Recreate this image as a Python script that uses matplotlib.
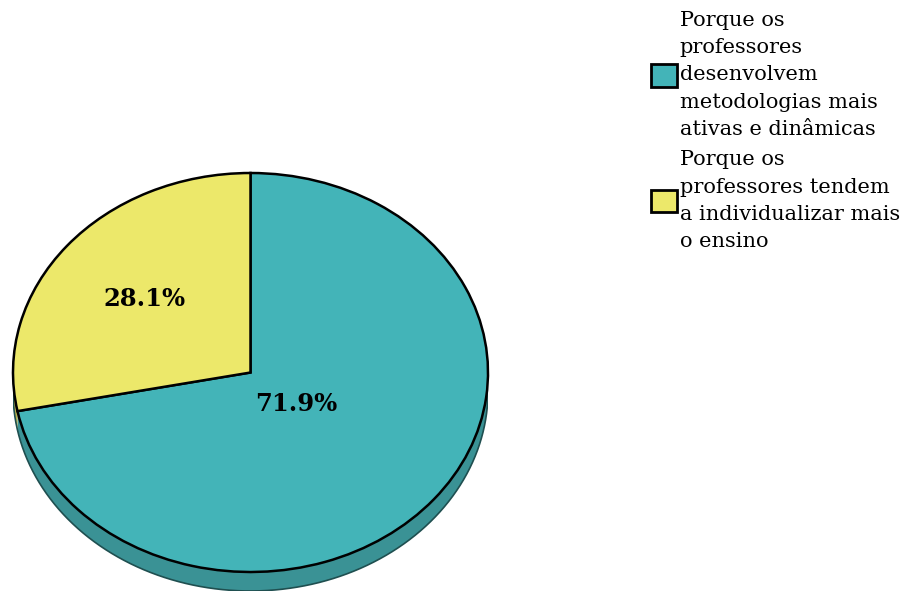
import numpy as np
import matplotlib.pyplot as plt
from matplotlib.patches import Polygon

# Dados do gráfico
categorias = ['Porque os\nprofessores\ndesenvolvem\nmetodologias mais\nativas e dinâmicas',
              'Porque os\nprofessores tendem\na individualizar mais\no ensino']
valores = [71.9, 28.1]
rotulos = ['71.9%', '28.1%']
cores = ['#43B4B8', '#ECE86A']
cores_lado = ['#3A9295', '#B8B24C']

plt.rcParams['font.family'] = ['DejaVu Serif']

fig = plt.figure(figsize=(9, 5.92), dpi=100)
# eixo que contém a elipse (topo 173 px, base da espessura 591 px)
ax = fig.add_axes([13 / 900, 1 / 592, 475 / 900, 418 / 592])

profundidade = 19 / 199.5

wedges, _ = ax.pie(valores, colors=cores, startangle=90, counterclock=False,
                   radius=1, wedgeprops=dict(edgecolor='black', linewidth=1.8),
                   frame=False)
for w in wedges:
    w.set_zorder(3)

# lado (espessura) da pizza
for w, c in zip(wedges, cores_lado):
    for lo, hi in [(-180, 0), (180, 360)]:
        a = max(w.theta1, lo)
        b = min(w.theta2, hi)
        if b <= a:
            continue
        t = np.radians(np.linspace(a, b, 100))
        topo = np.column_stack([np.cos(t), np.sin(t)])
        base = np.column_stack([np.cos(t), np.sin(t) - profundidade])[::-1]
        ax.add_patch(Polygon(np.vstack([topo, base]), closed=True, facecolor=c,
                             edgecolor='none', zorder=1))
t = np.radians(np.linspace(180, 360, 200))
ax.plot(np.cos(t), np.sin(t) - profundidade, color='#1f4f50', lw=1.2, zorder=2)

# rótulos de porcentagem
distancias = [0.25, 0.577]
for w, r, d in zip(wedges, rotulos, distancias):
    ang = np.radians((w.theta1 + w.theta2) / 2)
    ax.text(d * np.cos(ang), d * np.sin(ang), r, ha='center', va='center',
            fontsize=17.5, fontweight='bold', zorder=5)

ax.set_aspect('auto')
ax.set_xlim(-1, 1)
ax.set_ylim(-1 - profundidade, 1)
ax.axis('off')

leg = fig.legend(wedges, categorias, loc='upper left',
                 bbox_to_anchor=(651 / 900, 1 - 11 / 592), frameon=False,
                 fontsize=15, handlelength=1.25, handleheight=1.25,
                 handletextpad=0.12, labelspacing=0.55, borderpad=0,
                 borderaxespad=0)
for txt in leg.get_texts():
    txt.set_linespacing(1.55)
for h in leg.legend_handles:
    h.set_linewidth(2)

plt.savefig('out.png', dpi=100)
